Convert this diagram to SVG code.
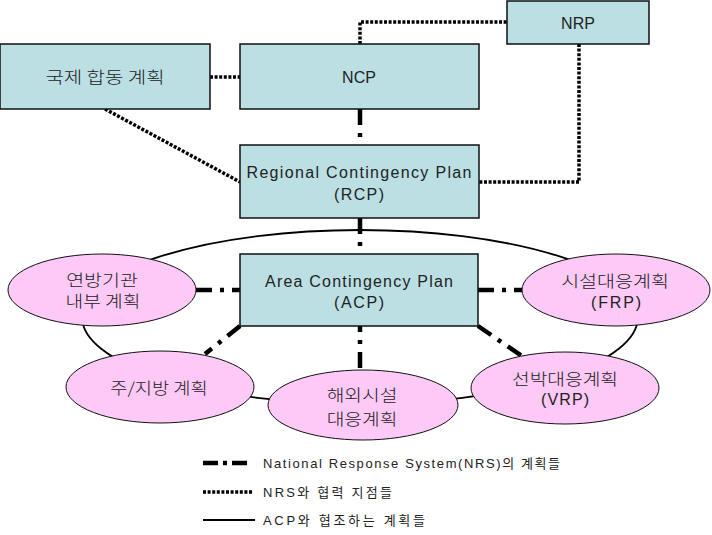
<svg xmlns="http://www.w3.org/2000/svg" width="712" height="535" viewBox="0 0 712 535">
<style>
.box{fill:#bbdfe3;stroke:#111;stroke-width:1.5}
.ell{fill:#fdc9f6;stroke:#111;stroke-width:1}
.t{font-family:"Liberation Sans","Noto Sans CJK KR",sans-serif;font-size:16px;fill:#222;text-anchor:middle}
.k{font-family:"Noto Sans CJK KR","Liberation Sans",sans-serif;font-size:16px;font-weight:300;fill:#222;text-anchor:middle}
.lg{font-family:"Liberation Sans","Noto Sans CJK KR",sans-serif;font-size:13px;fill:#222}
.dot{fill:none;stroke:#000;stroke-width:3.5;stroke-dasharray:3 1.6}
.dd{fill:none;stroke:#000;stroke-width:4.5;stroke-dasharray:16 8 4 8}
.sol{fill:none;stroke:#000;stroke-width:1.8}
</style>
<rect width="712" height="535" fill="#fff"/>
<g id="connectors">
<ellipse class="sol" cx="360" cy="317" rx="278" ry="87"/>
<line class="dot" x1="210" y1="77" x2="240" y2="77"/>
<polyline class="dot" points="360,44 360,22 507,22"/>
<polyline class="dot" points="579,44 579,182 479,182"/>
<line class="dot" x1="105" y1="109" x2="240" y2="182"/>
<line class="dd" x1="360" y1="109" x2="360" y2="145"/>
<line class="dd" x1="360" y1="218" x2="360" y2="254"/>
<line class="dd" x1="196" y1="290" x2="240" y2="290"/>
<line class="dd" x1="478" y1="290" x2="522" y2="290"/>
<line class="dd" x1="360" y1="326" x2="360" y2="371" stroke-dashoffset="-26"/>
<line class="dd" x1="240" y1="326" x2="205" y2="354"/>
<line class="dd" x1="478" y1="326" x2="522" y2="356"/>
</g>
<g id="n-intl"><rect class="box" x="0" y="44" width="210" height="65"/><text class="k" font-size="17" transform="translate(105,83) scale(1.25,1)">국제 합동 계획</text></g>
<g id="n-ncp"><rect class="box" x="240" y="44" width="239" height="65"/><text class="t" x="359" y="83">NCP</text></g>
<g id="n-nrp"><rect class="box" x="507" y="1" width="142" height="43"/><text class="t" x="578" y="29">NRP</text></g>
<g id="n-rcp"><rect class="box" x="240" y="145" width="239" height="73"/><text class="t" x="359" y="178" textLength="225" lengthAdjust="spacing">Regional Contingency Plan</text><text class="t" x="359" y="200" textLength="50" lengthAdjust="spacing">(RCP)</text></g>
<g id="n-acp"><rect class="box" x="240" y="254" width="238" height="72"/><text class="t" x="359" y="287" textLength="188" lengthAdjust="spacing">Area Contingency Plan</text><text class="t" x="359" y="308" textLength="50" lengthAdjust="spacing">(ACP)</text></g>
<g id="n-fed"><ellipse class="ell" cx="102" cy="290" rx="94" ry="36"/><text class="k" transform="translate(102,286) scale(1.22,1)">연방기관</text><text class="k" transform="translate(103,307) scale(1.2,1)">내부 계획</text></g>
<g id="n-state"><ellipse class="ell" cx="160" cy="387" rx="94" ry="36"/><text class="k" font-size="17" transform="translate(159,394) scale(1.17,1)">주/지방 계획</text></g>
<g id="n-overseas"><ellipse class="ell" cx="363" cy="405" rx="95" ry="35"/><text class="k" transform="translate(362,401) scale(1.2,1)">해외시설</text><text class="k" transform="translate(362,425) scale(1.2,1)">대응계획</text></g>
<g id="n-frp"><ellipse class="ell" cx="616" cy="290" rx="94" ry="36"/><text class="k" transform="translate(615,287) scale(1.22,1)">시설대응계획</text><text class="t" x="616" y="308" textLength="50" lengthAdjust="spacing">(FRP)</text></g>
<g id="n-vrp"><ellipse class="ell" cx="565" cy="388" rx="94" ry="36"/><text class="k" transform="translate(565,385) scale(1.2,1)">선박대응계획</text><text class="t" x="565" y="405" textLength="48" lengthAdjust="spacing">(VRP)</text></g>
<g id="legend">
<line x1="203" y1="463" x2="248" y2="463" stroke="#000" stroke-width="4.5" stroke-dasharray="15 5 4 5"/>
<text class="lg" x="263" y="468" textLength="297" lengthAdjust="spacing">National Response System(NRS)의 계획들</text>
<line class="dot" x1="203" y1="492" x2="253" y2="492"/>
<text class="lg" x="263" y="497" textLength="129" lengthAdjust="spacing">NRS와 협력 지점들</text>
<line class="sol" x1="203" y1="520" x2="255" y2="520"/>
<text class="lg" x="263" y="525" textLength="162" lengthAdjust="spacing">ACP와 협조하는 계획들</text>
</g>
</svg>
